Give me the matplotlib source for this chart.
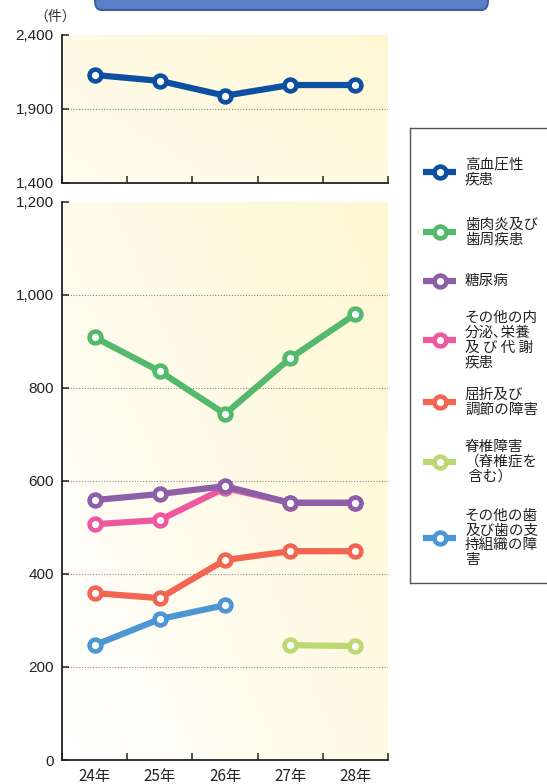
import numpy as np
import matplotlib
matplotlib.use("Agg")
from matplotlib import pyplot as plt
from matplotlib.patches import FancyBboxPatch
from matplotlib.lines import Line2D

plt.rcParams['font.family'] = ['Liberation Sans Narrow', 'Liberation Sans', 'Noto Sans CJK JP', 'DejaVu Sans']
jp = ['Noto Sans CJK JP', 'DejaVu Sans']

years = ['24年', '25年', '26年', '27年', '28年']
x = np.arange(len(years)) + 0.5

hypertension = [2130, 2090, 1990, 2062, 2062]
periodontal = [909, 836, 744, 864, 959]
diabetes = [559, 572, 589, 553, 553]
endocrine = [507, 516, 585, 553, 553]
refraction = [359, 348, 430, 449, 449]
spine = [np.nan, np.nan, np.nan, 247, 245]
teeth_other = [247, 303, 333, np.nan, np.nan]

top_ticks = [1400, 1900, 2400]
top_labels = ['1,400', '1,900', '2,400']
bot_ticks = [0, 200, 400, 600, 800, 1000, 1200]
bot_labels = ['0', '200', '400', '600', '800', '1,000', '1,200']

series = [
    ('高血圧性\n疾患', '#0d4fa0'),
    ('歯肉炎及び\n歯周疾患', '#52b96d'),
    ('糖尿病', '#8c5fa8'),
    ('その他の内\n分泌､栄養\n及 び 代 謝\n疾患', '#ef58a0'),
    ('屈折及び\n調節の障害', '#f26552'),
    ('脊椎障害\n（脊椎症を\n 含む）', '#bcd872'),
    ('その他の歯\n及び歯の支\n持組織の障\n害', '#4e96d3'),
]

W, H = 547, 784
fig = plt.figure(figsize=(W / 100, H / 100), dpi=100)


def px_axes(x0, y0, x1, y1):
    return fig.add_axes([x0 / W, 1 - y1 / H, (x1 - x0) / W, (y1 - y0) / H])


def gradient(ax, lo, hi):
    gx, gy = np.meshgrid(np.linspace(0, 1, 200), np.linspace(0, 1, 200))
    t = lo + (hi - lo) * (gx * 0.7 + gy * 0.5) / 1.2
    white = np.array([1.0, 1.0, 1.0])
    yel = np.array([1.0, 0.965, 0.80])
    img = white[None, None, :] * (1 - t[..., None]) + yel[None, None, :] * t[..., None]
    ax.imshow(img, extent=[0, 1, 0, 1], transform=ax.transAxes, origin='lower',
              aspect='auto', zorder=0)


def style(ax, ticks, labels, ylim):
    ax.set_xlim(0, 5)
    ax.set_ylim(*ylim)
    for s in ['top', 'right']:
        ax.spines[s].set_visible(False)
    for s in ['left', 'bottom']:
        ax.spines[s].set_linewidth(1.3)
        ax.spines[s].set_color('#222222')
    ax.set_xticks(np.arange(6))
    ax.set_xticklabels([])
    ax.set_yticks(ticks)
    ax.set_yticklabels(labels, fontsize=11, color='#222222')
    ax.tick_params(axis='both', direction='in', length=5, width=1.1, color='#222222')
    ax.tick_params(axis='y', pad=6)
    for t in ticks[1:-1]:
        ax.axhline(t, color='#888888', lw=0.8, ls=(0, (1, 1.5)), zorder=1)


lkw = dict(lw=4.5, marker='o', ms=8.5, mew=3.3, mfc='white', solid_capstyle='butt', zorder=3)

ax1 = px_axes(62, 35, 388, 183)
gradient(ax1, 0.3, 0.85)
style(ax1, top_ticks, top_labels, (1400, 2400))
ax1.plot(x, hypertension, color=series[0][1], mec=series[0][1], **lkw)

ax2 = px_axes(62, 202, 388, 760)
gradient(ax2, 0.0, 0.9)
style(ax2, bot_ticks, bot_labels, (0, 1200))
order = [(endocrine, 3), (diabetes, 2), (periodontal, 1), (refraction, 4),
         (spine, 5), (teeth_other, 6)]
for vals, i in order:
    ax2.plot(x, vals, color=series[i][1], mec=series[i][1], **lkw)
ax2.set_xticks(x, minor=True)
ax2.set_xticklabels(years, minor=True, fontsize=11, family=jp, color='#222222')
ax2.tick_params(axis='x', which='minor', length=0, pad=6)

fig.text(34 / W, 1 - 17 / H, '（件）', fontsize=10, family=jp, color='#333333', va='center')

# title bar
bar = FancyBboxPatch((95 / W, 1 - 10 / H), 393 / W, 30 / H,
                     boxstyle='round,pad=0,rounding_size=0.012',
                     transform=fig.transFigure, fc='#5b7ec6', ec='#3d5ea6', lw=1.5,
                     clip_on=False)
fig.patches.append(bar)

# legend
lax = px_axes(410, 128, 560, 583)
lax.set_xlim(410, 560)
lax.set_ylim(583, 128)
lax.set_xticks([])
lax.set_yticks([])
for s in lax.spines.values():
    s.set_color('#555555')
    s.set_linewidth(1.0)
ys = [172, 232, 281, 340, 402, 462, 538]
for (label, col), yy in zip(series, ys):
    lax.add_line(Line2D([423, 456], [yy, yy], color=col, lw=4.5, solid_capstyle='butt'))
    lax.plot([439.5], [yy], marker='o', ms=8.5, mew=3.3, mfc='white', mec=col, color=col)
    lax.text(465, yy, label, fontsize=10.5, family=jp, va='center', ha='left',
             linespacing=1.08, color='#222222')

fig.savefig('out.png', dpi=100)
